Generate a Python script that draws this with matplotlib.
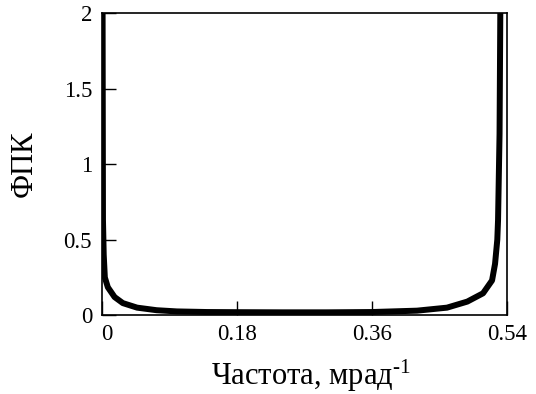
import numpy as np
import matplotlib
matplotlib.use('Agg')
import matplotlib.pyplot as plt
from matplotlib.transforms import ScaledTranslation

plt.rcParams['font.family'] = ['Liberation Serif', 'DejaVu Serif']
plt.rcParams['mathtext.fontset'] = 'custom'
plt.rcParams['mathtext.rm'] = 'Liberation Serif'
plt.rcParams['mathtext.it'] = 'Liberation Serif'

# Частота (мрад^-1) и значения ФПК
freq = [0.001, 0.0015, 0.0025, 0.004, 0.008, 0.017, 0.028, 0.047, 0.073, 0.10,
        0.14, 0.18, 0.24, 0.30, 0.36, 0.42, 0.46, 0.487, 0.508, 0.520,
        0.524, 0.527, 0.528, 0.530, 0.531]
fpk = [2.0, 0.63, 0.40, 0.25, 0.185, 0.12, 0.08, 0.05, 0.033, 0.025,
       0.021, 0.02, 0.019, 0.019, 0.021, 0.03, 0.05, 0.09, 0.145, 0.23,
       0.34, 0.5, 0.63, 1.2, 2.0]

x_ticks = [0, 0.18, 0.36, 0.54]
x_tick_labels = ['0', '0.18', '0.36', '0.54']
y_ticks = [0, 0.5, 1, 1.5, 2]
y_tick_labels = ['0', '0.5', '1', '1.5', '2']

fig = plt.figure(figsize=(5.36, 3.94), dpi=100)
ax = fig.add_axes([0.19, 0.2, 0.756, 0.767])

ax.plot(freq, fpk, color='black', linewidth=4.3, solid_capstyle='butt')

ax.set_xlim(0, 0.54)
ax.set_ylim(0, 2)
ax.set_xticks(x_ticks)
ax.set_xticklabels(x_tick_labels)
ax.set_yticks(y_ticks)
ax.set_yticklabels(y_tick_labels)
ax.tick_params(direction='in', length=10, width=1, labelsize=16.5)
ax.tick_params(axis='x', pad=6)
ax.tick_params(axis='y', pad=7)
for s in ax.spines.values():
    s.set_linewidth(1.2)

# le "0" de l'axe X est un peu décalé à droite
lbl0 = ax.get_xticklabels()[0]
lbl0.set_transform(lbl0.get_transform() + ScaledTranslation(5 / 100, 0, fig.dpi_scale_trans))

ax.set_xlabel('Частота, мрад$^{\\text{-}1}$', fontsize=22)
ax.xaxis.set_label_coords(0.517, -0.14)
ax.set_ylabel('ФПК', fontsize=22)
ax.yaxis.set_label_coords(-0.155, 0.5)

fig.savefig('out.png', dpi=100)
